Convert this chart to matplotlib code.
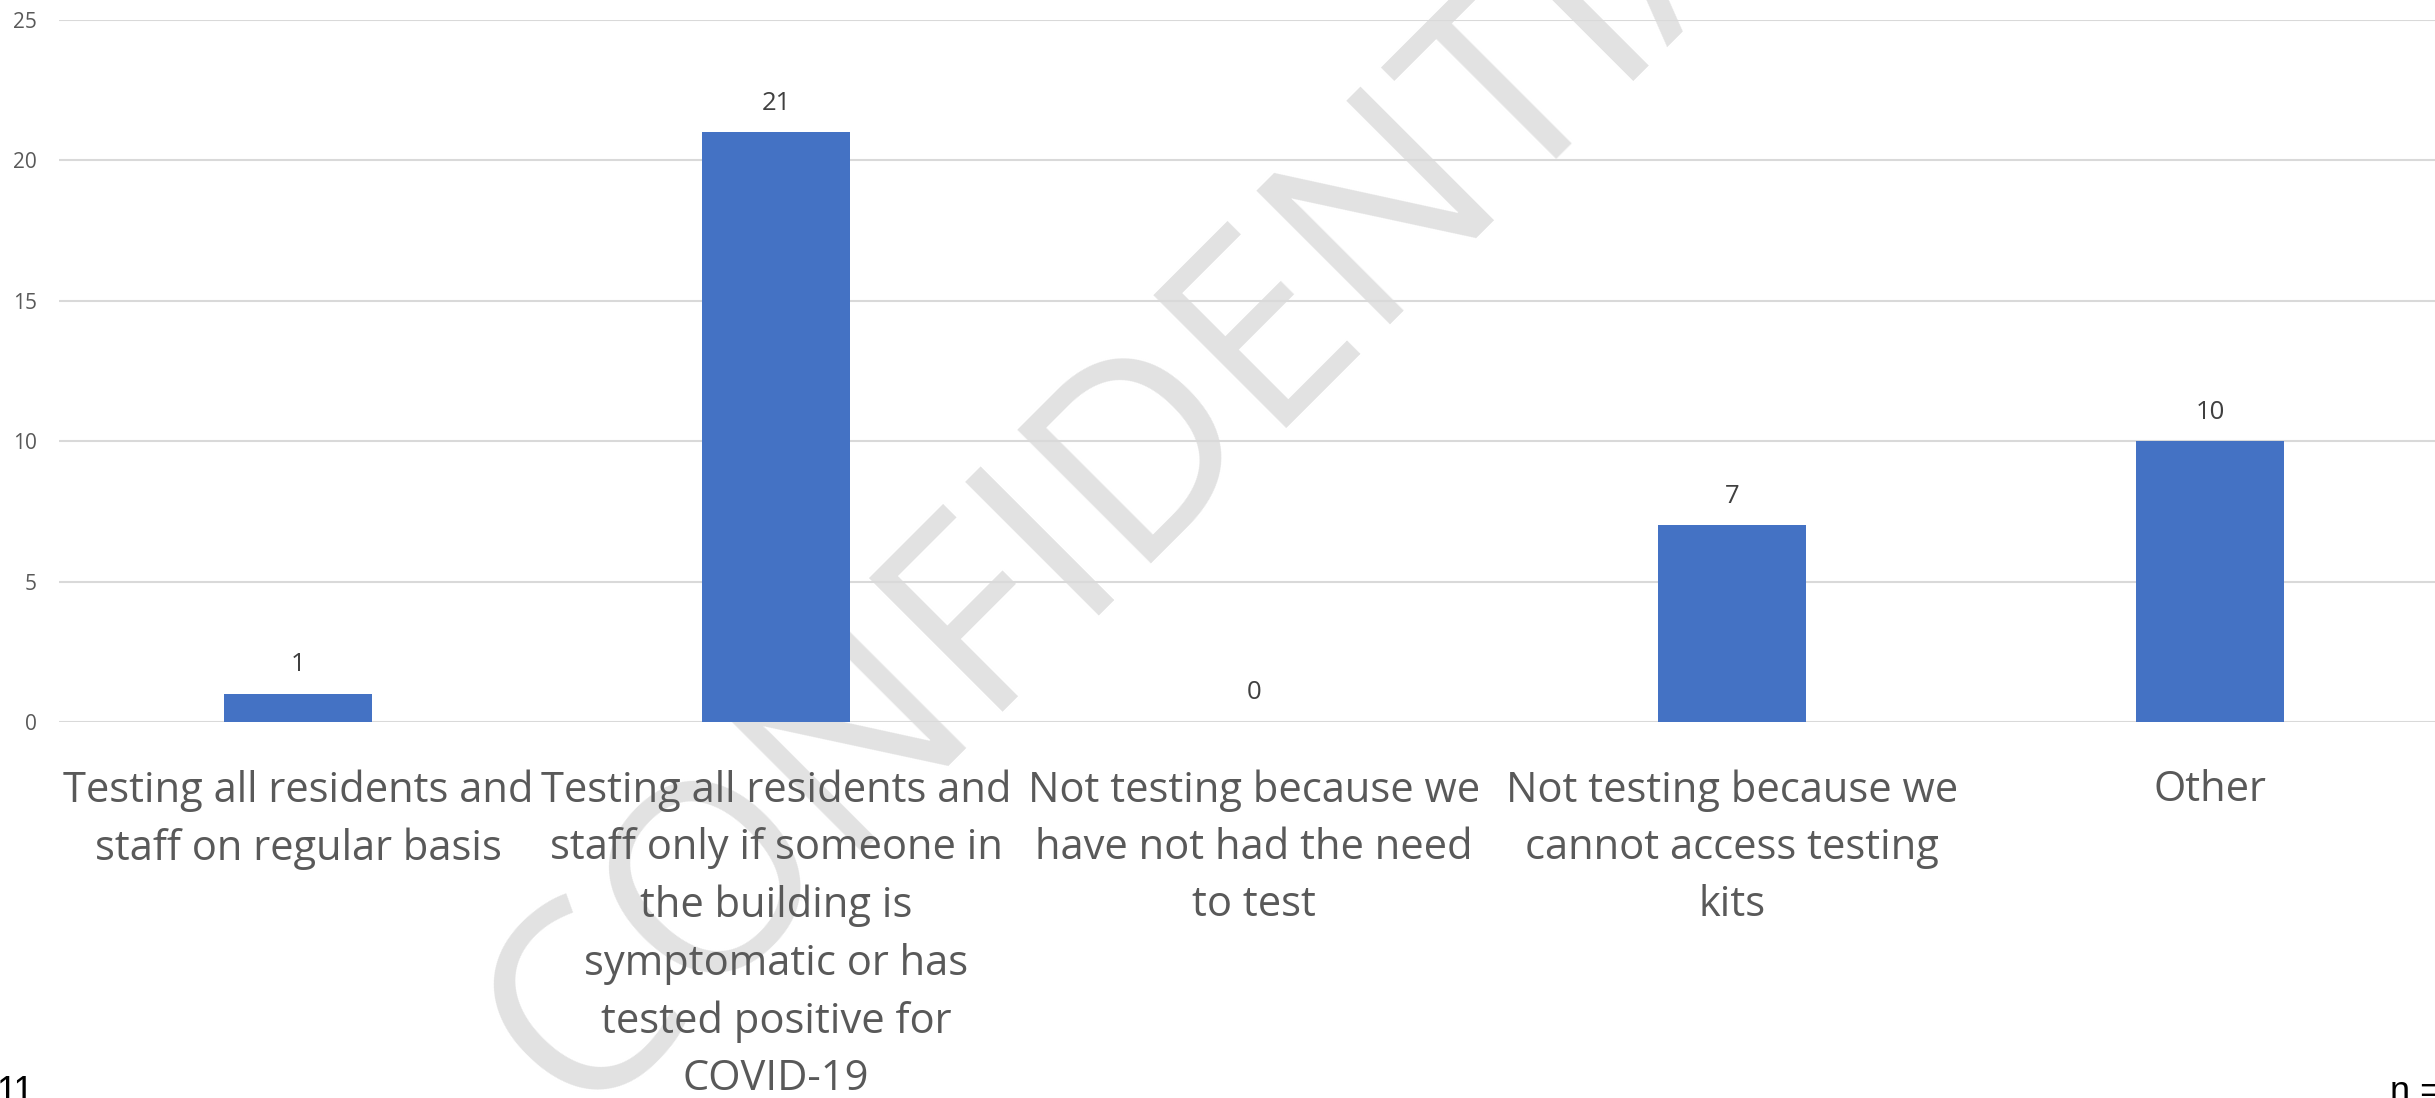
import numpy as np
import matplotlib
matplotlib.use('Agg')
import matplotlib.pyplot as plt

categories = [
	'Testing all residents and\nstaff on regular basis',
	'Testing all residents and\nstaff only if someone in\nthe building is\nsymptomatic or has\ntested positive for\nCOVID-19',
	'Not testing because we\nhave not had the need\nto test',
	'Not testing because we\ncannot access testing\nkits',
	'Other',
]
counts = [1, 21, 0, 7, 10]
yTicks = [0, 5, 10, 15, 20, 25]

barColor = '#4472C4'
gridColor = '#D9D9D9'
labelColor = '#595959'

plt.rcParams['font.family'] = ['Open Sans', 'DejaVu Sans']

fig = plt.figure(figsize=(24.35, 10.98), dpi=100)

# plot area runs slightly past the right edge of the figure
ax = fig.add_axes([59/2435, 1 - 722/1098, 2390/2435, 702/1098])
ax.patch.set_alpha(0)

x = np.arange(len(categories))
ax.bar(x, counts, width=0.31, color=barColor, zorder=3)

for xi, c in zip(x, counts):
	ax.annotate(str(c), (xi, c), xytext=(0, 21), textcoords='offset points',
		ha='center', va='center', fontsize=18.5, color='#404040')

ax.set_xlim(-0.5, 4.5)
ax.set_ylim(0, 25)
ax.set_yticks(yTicks)
ax.set_xticks(x)
ax.set_xticklabels(categories, fontsize=30, color=labelColor, linespacing=1.48)
ax.tick_params(axis='x', length=0, pad=34)
ax.tick_params(axis='y', length=0, pad=16, labelsize=15, labelcolor=labelColor)

ax.grid(axis='y', color=gridColor, linewidth=1.5, zorder=0)
ax.set_axisbelow(True)
for spine in ax.spines.values():
	spine.set_visible(False)

# watermark behind the chart
fig.text(1180/2435, 1 - 421/1098, 'CONFIDENTIAL', fontsize=190, fontweight='normal',
	color='#E2E2E2', rotation=45, rotation_mode='anchor', ha='center', va='center',
	zorder=-1)

# captions cut off by the bottom corners
fig.text(-4/2435, -4/1098, '11', fontsize=26, color='black', family='Liberation Sans',
	ha='left', va='baseline')
fig.text(2390/2435, -4/1098, 'n =', fontsize=26, color='black', family='Liberation Sans',
	ha='left', va='baseline')

fig.savefig('out.png', dpi=100)
